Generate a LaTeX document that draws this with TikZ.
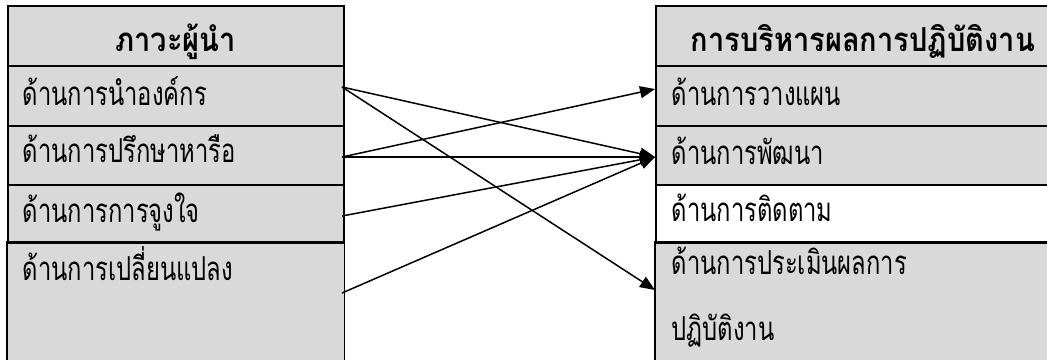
\documentclass[tikz,border=0pt]{standalone}
\usepackage{fontspec}
\setmainfont{Loma}[Script=Thai, FakeStretch=0.72]
\newfontfamily\headfont{Loma}[Script=Thai, FakeStretch=0.88]
\usetikzlibrary{arrows.meta}
\definecolor{cellgray}{RGB}{217,217,217}
\begin{document}
\begin{tikzpicture}[x=1bp,y=-1bp,
  cell/.style={draw=black, line width=1.6bp, fill=cellgray, anchor=north west,
    inner xsep=15bp, inner ysep=0bp, align=left, font=\fontsize{33bp}{33bp}\selectfont},
  opencell/.style={draw=none},
  lcell/.style={cell, text width=306bp},
  rcell/.style={cell, text width=382bp, inner xsep=16bp},
  head/.style={align=center, font=\headfont\fontsize{33bp}{33bp}\selectfont\bfseries},
  border/.style={line width=1.6bp},
  link/.style={line width=1.5bp, -{Triangle[length=15bp,width=12bp]}}
]
\useasboundingbox (0,0) rectangle (1047,359);
\fill[white] (0,0) rectangle (1047,359);
\clip (0,0) rectangle (1047,359);
% left table
\node[lcell, opencell, text height=38bp, text depth=79bp] (l4) at (7,242) {ด้านการเปลี่ยนแปลง};
\node[lcell, head, text height=46bp, text depth=14bp] (lh) at (7,5) {ภาวะผู้นำ};
\node[lcell, text height=40bp, text depth=20bp] (l1) at (7,65) {ด้านการนำองค์กร};
\node[lcell, text height=37bp, text depth=22bp] (l2) at (7,125) {ด้านการปรึกษาหารือ};
\node[lcell, text height=38bp, text depth=20bp] (l3) at (7,184) {ด้านการการจูงใจ};
\draw[border] (l4.south west) -- (l4.north west) -- (l4.north east) -- (l4.south east);
% right table
\node[rcell, opencell, text height=32bp, text depth=85bp] (r4) at (655,242) {\parbox[t]{382bp}{\baselineskip=66bp ด้านการประเมินผลการ\\ปฏิบัติงาน}};
\node[rcell, head, text height=46bp, text depth=14bp] (rh) at (655,5) {การบริหารผลการปฏิบัติงาน};
\node[rcell, text height=40bp, text depth=20bp] (r1) at (655,65) {ด้านการวางแผน};
\node[rcell, text height=39bp, text depth=20bp] (r2) at (655,125) {ด้านการพัฒนา};
\node[rcell, fill=white, text height=37bp, text depth=21bp] (r3) at (655,184) {ด้านการติดตาม};
\draw[border] (r4.south west) -- (r4.north west) -- (r4.north east) -- (r4.south east);
% connector points
\coordinate (a1) at (342,87);
\coordinate (a2) at (342,157);
\coordinate (a3) at (342,216);
\coordinate (a4) at (342,293);
\coordinate (b1) at (655,89);
\coordinate (b2) at (655,157);
\coordinate (b4) at (655,290);
\draw[link] (a1) -- (b2);
\draw[link] (a1) -- (b4);
\draw[link] (a2) -- (b1);
\draw[link] (a2) -- (b2);
\draw[link] (a3) -- (b2);
\draw[link] (a4) -- (b2);
\end{tikzpicture}
\end{document}
